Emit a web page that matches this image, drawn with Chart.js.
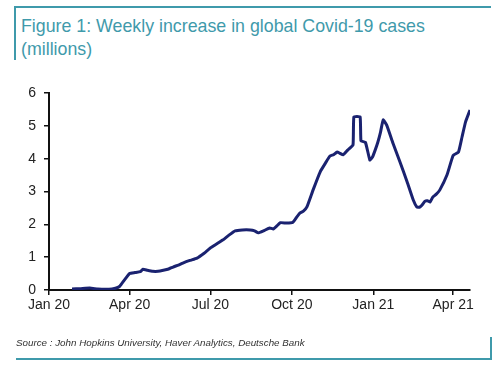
<!DOCTYPE html>
<html>
<head>
<meta charset="utf-8">
<script src="https://cdn.jsdelivr.net/npm/chart.js@4.4.1/dist/chart.umd.min.js"></script>
<style>
  body { margin: 0; background: #fff; }
  #wrap { position: relative; width: 500px; height: 366px; overflow: hidden; }
  #chart { position: absolute; left: 0; top: 0; }
  .title { position: absolute; left: 21px; top: 15px; font-family: "Liberation Sans", Arial, sans-serif;
           font-size: 17.8px; line-height: 23px; color: #3f9aab; }
  .bar-left { position: absolute; left: 14px; top: 7px; width: 2px; height: 53px; background: #3f9aab; }
  .bar-top { position: absolute; left: 14px; top: 6px; width: 477px; height: 2px; background: #3f9aab; }
  .source { position: absolute; left: 16px; top: 337px; font-family: "Liberation Sans", Arial, sans-serif;
            font-style: italic; font-size: 9.8px; color: #333; }
  .bar-bottom { position: absolute; left: 16px; top: 358px; width: 476px; height: 2px; background: #3f9aab; }
  .bar-right { position: absolute; left: 490px; top: 337px; width: 2px; height: 23px; background: #3f9aab; }
</style>
</head>
<body>
<div id="wrap">
  <div class="bar-top"></div>
  <div class="bar-left"></div>
  <div class="title">Figure 1: Weekly increase in global Covid-19 cases<br>(millions)</div>
  <canvas id="chart" width="500" height="366"></canvas>
  <div class="source">Source : John Hopkins University, Haver Analytics, Deutsche Bank</div>
  <div class="bar-bottom"></div>
  <div class="bar-right"></div>
</div>
<script>
// days since 1 Jan 2020
var days = [26, 35, 46, 55, 64, 71, 76, 80, 85, 91, 97, 103, 106, 111, 117, 123, 129, 135, 140, 146,
  151, 159, 167, 175, 182, 189, 196, 203, 210, 218, 227, 232, 236, 242, 249, 253, 257, 261, 268, 275,
  279, 283, 287, 291, 298, 306, 312, 317, 321, 325, 332, 337, 343, 344, 351, 352, 357, 362, 365, 368,
  371, 374, 377, 381, 388, 396, 404, 411, 415, 418, 421, 424, 427, 430, 433, 437, 441, 449, 456, 462,
  466, 470, 475];
// weekly new cases, millions
var cases = [0.03, 0.04, 0.06, 0.03, 0.02, 0.03, 0.06, 0.12, 0.3, 0.5, 0.53, 0.56, 0.63, 0.6, 0.57, 0.57, 0.6, 0.64, 0.7, 0.76,
  0.82, 0.9, 0.97, 1.12, 1.28, 1.4, 1.52, 1.67, 1.8, 1.83, 1.83, 1.8, 1.74, 1.8, 1.89, 1.86, 1.95, 2.05, 2.04, 2.06,
  2.2, 2.34, 2.4, 2.53, 3.05, 3.6, 3.87, 4.08, 4.12, 4.2, 4.12, 4.26, 4.42, 5.27, 5.27, 4.54, 4.5, 3.96, 4.05, 4.26,
  4.5, 4.8, 5.18, 5.02, 4.48, 3.9, 3.3, 2.74, 2.53, 2.52, 2.59, 2.7, 2.72, 2.68, 2.83, 2.92, 3.05, 3.5, 4.1, 4.2,
  4.66, 5.12, 5.48];
var tickDays = [0, 91, 182, 274, 366, 456];
var tickLabels = ['Jan 20', 'Apr 20', 'Jul 20', 'Oct 20', 'Jan 21', 'Apr 21'];

var points = days.map(function (d, i) { return { x: d, y: cases[i] }; });

var axisFont = { family: '"Liberation Sans", Arial, sans-serif', size: 14 };

var ctx = document.getElementById('chart').getContext('2d');
new Chart(ctx, {
  type: 'line',
  data: {
    datasets: [{
      data: points,
      borderColor: '#1a2270',
      borderWidth: 3,
      pointRadius: 0,
      tension: 0.12,
      fill: false
    }]
  },
  options: {
    responsive: false,
    animation: false,
    layout: { padding: { left: 0, right: 30, top: 93, bottom: 46 } },
    plugins: { legend: { display: false }, tooltip: { enabled: false } },
    scales: {
      x: {
        type: 'linear',
        min: 0,
        max: 475,
        afterBuildTicks: function (axis) {
          axis.ticks = tickDays.map(function (v) { return { value: v }; });
        },
        afterFit: function (axis) { axis.height = 30; },
        ticks: {
          color: '#222',
          font: axisFont,
          padding: 2,
          maxRotation: 0,
          autoSkip: false,
          callback: function (v) {
            var i = tickDays.indexOf(v);
            return i >= 0 ? tickLabels[i] : '';
          }
        },
        grid: { drawOnChartArea: false, drawTicks: true, tickLength: 5, color: '#111', lineWidth: 1.5 },
        border: { color: '#111', width: 2 }
      },
      y: {
        min: 0,
        max: 6,
        afterFit: function (axis) { axis.width = 49; },
        ticks: { stepSize: 1, color: '#222', font: axisFont, padding: 8 },
        grid: { drawOnChartArea: false, drawTicks: true, tickLength: 5, color: '#111', lineWidth: 1.5 },
        border: { color: '#111', width: 2 }
      }
    }
  }
});
</script>
</body>
</html>
